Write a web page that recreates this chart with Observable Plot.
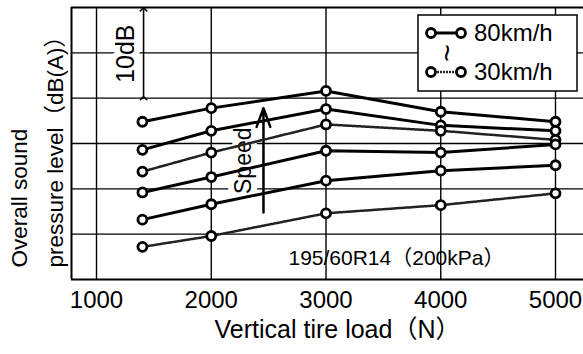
<!DOCTYPE html>
<html><head><meta charset="utf-8">
<script src="https://cdn.jsdelivr.net/npm/d3@7"></script>
<script src="https://cdn.jsdelivr.net/npm/@observablehq/plot@0.6"></script>
<style>
body{margin:0;background:#fff;}
#chart{position:relative;width:583px;height:354px;overflow:hidden;}
#chart svg{font-family:"Liberation Sans",Arial,"Noto Sans CJK JP",sans-serif;}
</style></head><body><div id="chart"></div>
<script>
// ---- data ----
const loads = [1400, 2000, 3000, 4000, 5000];           // vertical tire load (N)
const speeds = ["80km/h", "70km/h", "60km/h", "50km/h", "40km/h", "30km/h"];
const level80 = [17.4, 18.9, 20.8, 18.5, 17.4];          // relative dB(A)
const level70 = [14.3, 16.4, 18.8, 17.0, 16.4];
const level60 = [11.9, 14.0, 17.1, 16.4, 15.4];
const level50 = [9.6, 11.3, 14.2, 14.0, 14.9];
const level40 = [6.6, 8.3, 10.9, 12.0, 12.6];
const level30 = [3.6, 4.8, 7.3, 8.2, 9.5];
const xTicks = [1000, 2000, 3000, 4000, 5000];
const yGrid = [5, 10, 15, 20, 25];
const legendLabels = ["80km/h", "30km/h"];
const tireNote = "195/60R14（200kPa）";

// ---- build table ----
const seriesLevels = [level80, level70, level60, level50, level40, level30];
const rows = speeds.flatMap((s, i) => loads.map((l, j) => ({speed: s, load: l, level: seriesLevels[i][j]})));
const hatched = new Set(["60km/h", "30km/h"]);

const xDomain = [782, 5244], yDomain = [0, 30];
const font = '"Liberation Sans",Arial,"Noto Sans CJK JP",sans-serif';

const plot = Plot.plot({
  width: 583, height: 354,
  marginLeft: 71, marginRight: 0, marginTop: 7, marginBottom: 75,
  style: {fontFamily: font, background: "white", color: "black"},
  x: {domain: xDomain},
  y: {domain: yDomain},
  marks: [
    Plot.ruleX(xTicks, {stroke: "black", strokeWidth: 1.4}),
    Plot.ruleY(yGrid, {stroke: "black", strokeWidth: 1.4}),
    Plot.ruleY(yDomain, {stroke: "black", strokeWidth: 2}),
    Plot.ruleX([xDomain[0]], {stroke: "black", strokeWidth: 2}),
    // annotations
    Plot.text(["10dB"], {x: 1253, y: 24.9, text: d => d, rotate: -90, fontSize: 25, fill: "black", stroke: "white", strokeWidth: 12}),
    Plot.link([0], {x1: 1410, x2: 1410, y1: 20, y2: 29.8, stroke: "black", strokeWidth: 1.6, markerStart: "arrow", markerEnd: "arrow"}),
    Plot.text(["Speed"], {x: 2281, y: 13.1, text: d => d, rotate: -90, fontSize: 23, fill: "black", stroke: "white", strokeWidth: 12}),
    Plot.arrow([0], {x1: 2455, x2: 2455, y1: 7.4, y2: 18.9, stroke: "black", strokeWidth: 2.5, headLength: 12, headAngle: 40}),
    Plot.text([tireNote], {x: 3614, y: 2.3, text: d => d, fontSize: 21, fill: "black"}),
    // data
    Plot.line(rows.filter(d => !hatched.has(d.speed)), {x: "load", y: "level", z: "speed", stroke: "black", strokeWidth: 3}),
    Plot.line(rows.filter(d => hatched.has(d.speed)), {x: "load", y: "level", z: "speed", stroke: "#222", strokeWidth: 2.5, strokeDasharray: "2,1"}),
    Plot.dot(rows, {x: "load", y: "level", r: 4.5, fill: "white", stroke: "black", strokeWidth: 2.8}),
    // axes
    Plot.axisX(xTicks, {tickSize: 0, tickPadding: 11, fontSize: 24, label: null, fill: "black", tickFormat: d => String(d)}),
    Plot.axisY([], {label: null, tickSize: 0}),
    Plot.text(["Vertical tire load（N）"], {frameAnchor: "bottom", dx: 10, dy: 58, text: d => d, fontSize: 25, fill: "black"}),
    Plot.text(["Overall sound"], {frameAnchor: "left", dx: -52, dy: 124, rotate: -90, textAnchor: "start", text: d => d, fontSize: 22.5, fill: "black"}),
    Plot.text(["pressure level（dB(A)）"], {frameAnchor: "left", dx: -16, dy: 124, rotate: -90, textAnchor: "start", text: d => d, fontSize: 22.5, fill: "black"})
  ]
});
document.getElementById("chart").appendChild(plot);

// ---- legend (inside the plot, top right) ----
const svg = d3.select(plot);
const lg = svg.append("g").attr("font-family", font).attr("text-anchor", "start");
lg.append("rect").attr("x", 418).attr("y", 15).attr("width", 159).attr("height", 76)
  .attr("fill", "white").attr("stroke", "black").attr("stroke-width", 1.5);
legendLabels.forEach((lab, i) => {
  const y = i === 0 ? 33 : 72;
  lg.append("line").attr("x1", 431).attr("x2", 461).attr("y1", y).attr("y2", y)
    .attr("stroke", i === 0 ? "black" : "#222").attr("stroke-width", i === 0 ? 3 : 2.5)
    .attr("stroke-dasharray", i === 0 ? null : "2,1");
  [431, 461].forEach(cx => lg.append("circle").attr("cx", cx).attr("cy", y).attr("r", 4.5)
    .attr("fill", "white").attr("stroke", "black").attr("stroke-width", 2.8));
  lg.append("text").attr("x", 474).attr("y", y).attr("dy", "0.35em").attr("font-size", 24).text(lab);
});
lg.append("text").attr("transform", "translate(447,53) rotate(90)").attr("text-anchor", "middle")
  .attr("dy", "0.35em").attr("font-size", 30).text("~");
</script></body></html>
